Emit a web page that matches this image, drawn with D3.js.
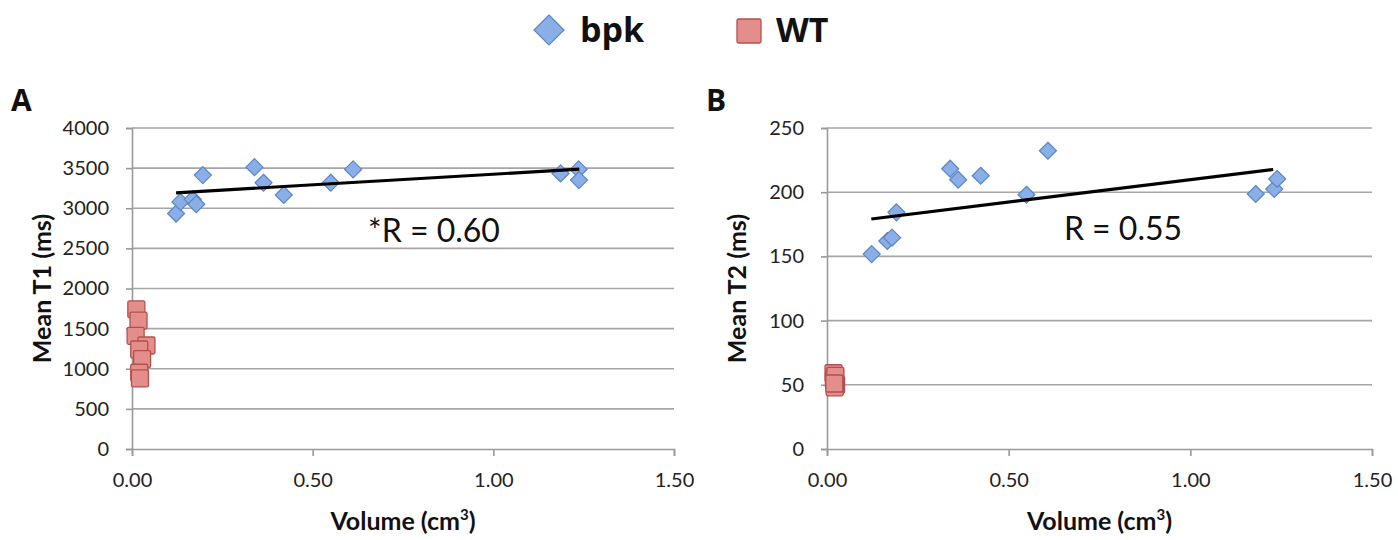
<!DOCTYPE html>
<html>
<head>
<meta charset="utf-8">
<script src="https://cdn.jsdelivr.net/npm/d3@7"></script>
<style>
  body { margin: 0; background: #fff; }
  svg { display: block; }
  .tick text { font-family: Lato, "Open Sans", sans-serif; font-size: 20px; fill: #222; }
  .axis-title { font-family: Lato, "Open Sans", sans-serif; font-weight: bold; font-size: 25px; fill: #111; }
  .panel-label { font-family: "Open Sans", sans-serif; font-weight: bold; font-size: 30px; fill: #111; }
  .legend-text { font-family: "Open Sans", sans-serif; font-weight: bold; font-size: 34px; fill: #111; }
  .r-text { font-family: Lato, "Open Sans", sans-serif; font-size: 32px; fill: #111; }
</style>
</head>
<body>
<svg id="chart" width="1398" height="540"></svg>
<script>
// volumes (cm3) of bpk kidneys
const bpkVolA = [0.122, 0.134, 0.168, 0.178, 0.196, 0.339, 0.364, 0.420, 0.550, 0.612, 1.186, 1.236, 1.237];
const bpkT1   = [2934, 3079, 3112, 3050, 3413, 3512, 3318, 3165, 3318, 3484, 3434, 3484, 3351];
const wtVolA  = [0.012, 0.018, 0.010, 0.040, 0.020, 0.028, 0.020, 0.022];
const wtT1    = [1740, 1600, 1410, 1290, 1240, 1120, 950, 880];

const bpkVolB = [0.123, 0.166, 0.179, 0.191, 0.339, 0.361, 0.423, 0.549, 0.608, 1.180, 1.231, 1.239];
const bpkT2   = [151.8, 162, 164.6, 184.3, 218.3, 209.7, 212.8, 198, 232.3, 198.6, 202.5, 210.3];
const wtVolB  = [0.018, 0.022, 0.020, 0.025, 0.021, 0.019, 0.023, 0.020];
const wtT2    = [59, 56, 53, 50, 48, 54, 57, 51];

// linear fit endpoints as drawn
const trendA = [[0.122, 3192], [1.238, 3487]];
const trendB = [[0.122, 179.1], [1.228, 217.7]];

const xTicks = [0, 0.5, 1.0, 1.5];
const yTicksA = [0, 500, 1000, 1500, 2000, 2500, 3000, 3500, 4000];
const yTicksB = [0, 50, 100, 150, 200, 250];

const svg = d3.select('#chart');

const diamondFill = '#8aaee6', diamondStroke = '#5b86c6';
const squareFill = '#e48e8c', squareStroke = '#b3504e';

function diamond(g, x, y, half) {
    g.append('path')
      .attr('d', `M${x},${y-half}L${x+half},${y}L${x},${y+half}L${x-half},${y}Z`)
      .attr('fill', diamondFill).attr('stroke', diamondStroke).attr('stroke-width', 1.2);
}
function square(g, x, y, side) {
    g.append('rect')
      .attr('x', x - side/2).attr('y', y - side/2)
      .attr('width', side).attr('height', side).attr('rx', 1.5)
      .attr('fill', squareFill).attr('stroke', squareStroke).attr('stroke-width', 1.3);
}

/* Legend */
const legend = svg.append('g');
diamond(legend, 549, 30, 15);
legend.append('text').attr('class', 'legend-text').attr('x', 580).attr('y', 42).text('bpk');
square(legend, 749, 31, 24);
legend.append('text').attr('class', 'legend-text').attr('x', 776).attr('y', 42).text('WT');

function drawPanel(opts) {
    const g = svg.append('g');
    const x = d3.scaleLinear().domain([0, 1.5]).range([opts.left, opts.right]);
    const y = d3.scaleLinear().domain([0, opts.yMax]).range([449, 128]);

    // gridlines
    g.append('g').selectAll('line')
      .data(opts.yTicks.filter(d => d > 0))
      .enter().append('line')
      .attr('x1', opts.left).attr('x2', opts.right)
      .attr('y1', d => y(d)).attr('y2', d => y(d))
      .attr('stroke', '#a6a6a6').attr('stroke-width', 1.6);

    const yAxis = d3.axisLeft(y).tickValues(opts.yTicks).tickSize(6).tickPadding(17).tickFormat(d3.format('d'));
    const yg = g.append('g').attr('transform', `translate(${opts.left},0)`).call(yAxis);

    const xAxis = d3.axisBottom(x).tickValues(xTicks).tickSize(7).tickPadding(17).tickFormat(d3.format('.2f'));
    const xg = g.append('g').attr('transform', `translate(0,449)`).call(xAxis);

    [yg, xg].forEach(a => {
        a.selectAll('.domain').attr('stroke', '#9a9a9a').attr('stroke-width', 1.6);
        a.selectAll('.tick line').attr('stroke', '#9a9a9a').attr('stroke-width', 1.6);
    });

    // titles
    g.append('text').attr('class', 'axis-title')
      .attr('transform', `translate(${opts.left - 81},${(128 + 449) / 2}) rotate(-90)`)
      .attr('text-anchor', 'middle').text(opts.yTitle);
    const xt = g.append('text').attr('class', 'axis-title')
      .attr('x', (opts.left + opts.right) / 2).attr('y', 530).attr('text-anchor', 'middle');
    xt.append('tspan').text('Volume (cm');
    xt.append('tspan').attr('font-size', 15).attr('dy', -10).text('3');
    xt.append('tspan').attr('dy', 10).text(')');

    g.append('text').attr('class', 'panel-label').attr('x', opts.left - 121).attr('y', 111).text(opts.label);

    // WT squares
    opts.wtX.forEach((v, i) => square(g, x(v), y(opts.wtY[i]), 17));
    // bpk diamonds
    opts.bpkX.forEach((v, i) => diamond(g, x(v), y(opts.bpkY[i]), 8.5));

    // trend line
    g.append('line')
      .attr('x1', x(opts.trend[0][0])).attr('y1', y(opts.trend[0][1]))
      .attr('x2', x(opts.trend[1][0])).attr('y2', y(opts.trend[1][1]))
      .attr('stroke', '#000').attr('stroke-width', 3.2);

    g.append('text').attr('class', 'r-text')
      .attr('x', opts.rPos[0]).attr('y', opts.rPos[1]).attr('text-anchor', 'middle').text(opts.rText);
}

drawPanel({
    left: 132, right: 674, yMax: 4000, yTicks: yTicksA, yTitle: 'Mean T1 (ms)', label: 'A',
    bpkX: bpkVolA, bpkY: bpkT1, wtX: wtVolA, wtY: wtT1, trend: trendA,
    rText: '*R = 0.60', rPos: [434, 242]
});
drawPanel({
    left: 827, right: 1372, yMax: 250, yTicks: yTicksB, yTitle: 'Mean T2 (ms)', label: 'B',
    bpkX: bpkVolB, bpkY: bpkT2, wtX: wtVolB, wtY: wtT2, trend: trendB,
    rText: 'R = 0.55', rPos: [1123, 240]
});
</script>
</body>
</html>
